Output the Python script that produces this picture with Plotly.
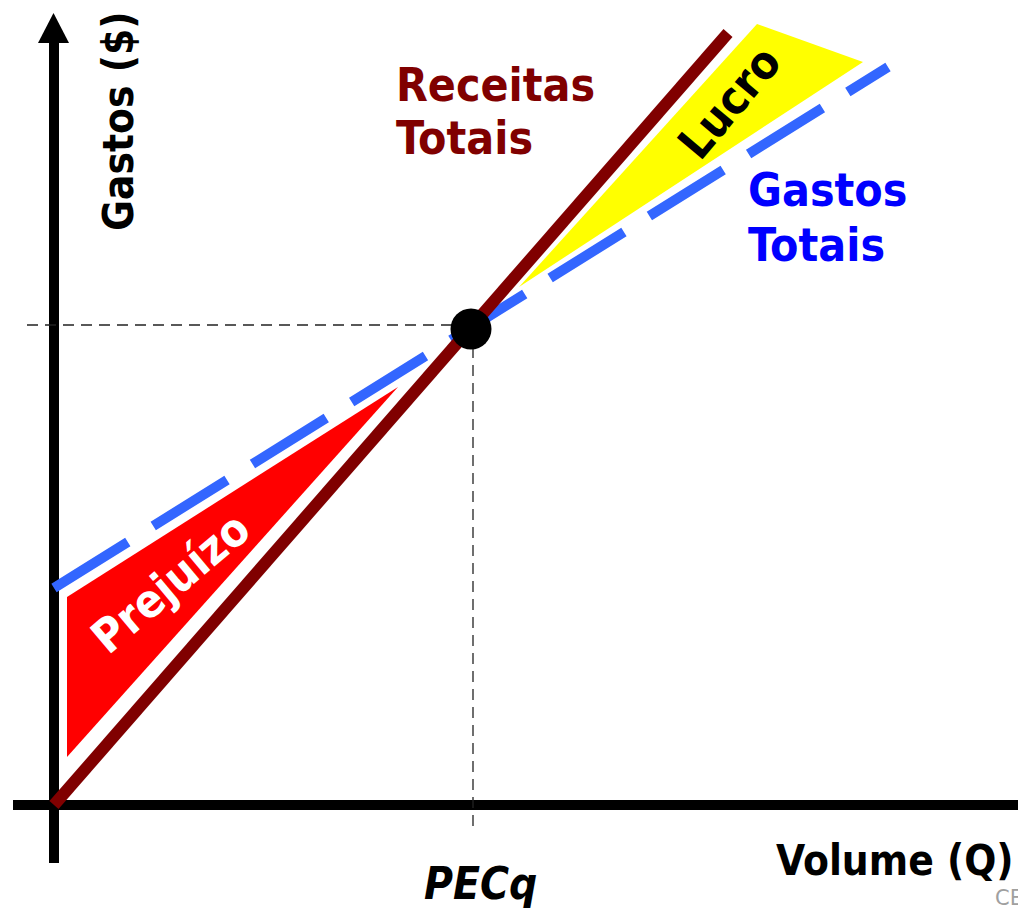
import plotly.graph_objects as go

# ---- chart values (conceptual units: volume Q, spending $) ----
rev_volume = [0, 674]            # Receitas Totais line
rev_value = [0, 772]
cost_volume = [0, 834]           # Gastos Totais line
cost_value = [217, 738]
pec_q = 417                      # break-even volume
pec_value = 476                  # break-even spending
loss_q = [13, 13, 344]           # Prejuízo area
loss_v = [208, 48, 418]
profit_q = [465, 703, 809]       # Lucro area
profit_v = [518, 781, 743]
yaxis_q = [0, 0]
yaxis_v = [-58, 765]
arrow_q = [-16, 15, -0.5]
arrow_v = [762, 762, 792]
xaxis_q = [-41, 964]
xaxis_v = [0, 0]

FONT = "DejaVu Sans Condensed, DejaVu Sans, sans-serif"

fig = go.Figure()

# axes
fig.add_trace(go.Scatter(x=yaxis_q, y=yaxis_v, mode="lines",
                         line=dict(color="black", width=10), hoverinfo="skip"))
fig.add_trace(go.Scatter(x=arrow_q, y=arrow_v, mode="lines", fill="toself",
                         fillcolor="black", line=dict(color="black", width=0),
                         hoverinfo="skip"))
fig.add_trace(go.Scatter(x=xaxis_q, y=xaxis_v, mode="lines",
                         line=dict(color="black", width=10), hoverinfo="skip"))

# guide lines
fig.add_trace(go.Scatter(x=[-27, pec_q], y=[pec_value + 4, pec_value + 4], mode="lines",
                         line=dict(color="#222222", width=1.3, dash="11px,7px"),
                         hoverinfo="skip"))
fig.add_trace(go.Scatter(x=[pec_q + 2, pec_q + 2], y=[pec_value, -28], mode="lines",
                         line=dict(color="#222222", width=1.3, dash="11px,7px"),
                         hoverinfo="skip"))

# areas
fig.add_trace(go.Scatter(x=loss_q, y=loss_v, mode="lines", fill="toself",
                         fillcolor="#FF0000", line=dict(width=0), hoverinfo="skip"))
fig.add_trace(go.Scatter(x=profit_q, y=profit_v, mode="lines", fill="toself",
                         fillcolor="#FFFF00", line=dict(width=0), hoverinfo="skip"))

# total cost (dashed) and revenue lines
fig.add_trace(go.Scatter(x=cost_volume, y=cost_value, mode="lines",
                         line=dict(color="#3366FF", width=10, dash="87px,30px"),
                         hoverinfo="skip"))
fig.add_trace(go.Scatter(x=rev_volume, y=rev_value, mode="lines",
                         line=dict(color="#800000", width=12), hoverinfo="skip"))

# break-even point
fig.add_trace(go.Scatter(x=[pec_q], y=[pec_value], mode="markers",
                         marker=dict(color="black", size=41), hoverinfo="skip"))

def txt(x, y, s, size, color="black", angle=0, xanchor="left", italic=False):
    t = f"<b>{s}</b>"
    if italic:
        t = f"<i>{t}</i>"
    fig.add_annotation(x=x, y=y, xref="x", yref="y", text=t, showarrow=False,
                       xanchor=xanchor, yanchor="middle", textangle=angle,
                       font=dict(family=FONT, size=size, color=color))

txt(340, 720, "Receitas", 46, "#800000")
txt(340, 667, "Totais", 46, "#800000")
txt(692, 615, "Gastos", 46, "#0000FF")
txt(692, 560, "Totais", 46, "#0000FF")
txt(675, 702, "Lucro", 46, "black", angle=-50, xanchor="center")
txt(116, 222, "Prejuízo", 46, "white", angle=-40, xanchor="center")
txt(64, 684, "Gastos ($)", 42, "black", angle=-90, xanchor="center")
txt(720, -55, "Volume (Q)", 42, "black")
txt(426, -78, "PECq", 44, "black", xanchor="center", italic=True)
fig.add_annotation(x=939, y=-93, xref="x", yref="y", text="CE", showarrow=False,
                   xanchor="left", yanchor="middle",
                   font=dict(family="DejaVu Sans, sans-serif", size=21, color="#A0A0A0"))

fig.update_layout(
    width=1018, height=911,
    margin=dict(l=0, r=0, t=0, b=0),
    paper_bgcolor="white", plot_bgcolor="white",
    showlegend=False,
    xaxis=dict(range=[-54, 964], visible=False, fixedrange=True),
    yaxis=dict(range=[-106, 805], visible=False, fixedrange=True),
)

fig.write_html("out.html", config={"displayModeBar": False},
               post_script="document.body.style.margin='0px';document.body.style.overflow='hidden';")
